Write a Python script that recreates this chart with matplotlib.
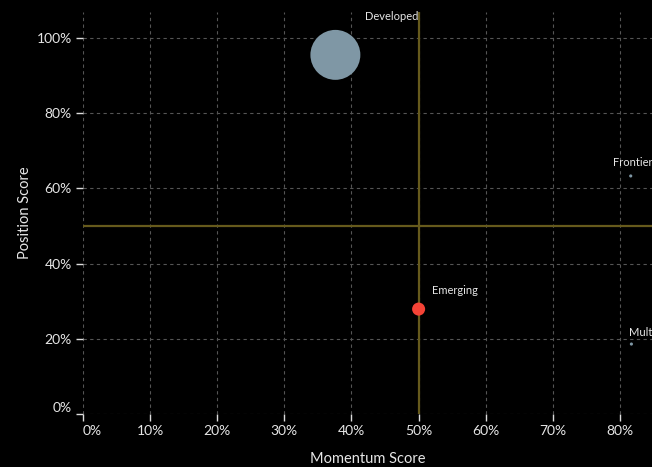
import matplotlib
matplotlib.use('Agg')
import numpy as np
import matplotlib.pyplot as plt
from matplotlib.ticker import PercentFormatter

# Market groups
groups = ['Developed', 'Emerging', 'Frontier', 'Multi-Region']
momentum = [0.376, 0.50, 0.816, 0.817]
position = [0.955, 0.279, 0.633, 0.186]
weight = [88.0, 6.0, 0.35, 0.35]
colors = ['#7f97a5', '#f44336', '#7f97a5', '#7f97a5']

# label offsets (points) relative to each point
label_offsets = [(21.5, 27.5), (9.5, 13.5), (-12.5, 10), (-1.5, 8.5)]

x_ticks = np.arange(0, 0.81, 0.1)
y_ticks = np.arange(0, 1.01, 0.2)

plt.rcParams['font.family'] = ['Lato', 'DejaVu Sans']

fig = plt.figure(figsize=(6.52, 4.67), dpi=100, facecolor='black')
ax = fig.add_axes([83 / 652, 53 / 467, 569 / 652, 402 / 467])
ax.set_facecolor('black')

ax.set_xlim(0, 0.8477)
ax.set_ylim(0, 1.069)

ax.set_xticks(x_ticks)
ax.set_yticks(y_ticks)
ax.xaxis.set_major_formatter(PercentFormatter(1.0, decimals=0))
ax.yaxis.set_major_formatter(PercentFormatter(1.0, decimals=0))

for s in ax.spines.values():
    s.set_visible(False)

ax.tick_params(colors='#dddddd', labelcolor='#e6e6e6', labelsize=10,
               length=5, width=1, direction='out', pad=3)

ax.grid(True, color='#555555', linestyle=(0, (3, 3)), linewidth=0.8)
ax.set_axisbelow(True)

# nudge the zero labels away from the corner
ax.get_xticklabels()[0].set_horizontalalignment('left')
ax.get_yticklabels()[0].set_verticalalignment('bottom')

# quadrant lines
ax.axhline(0.5, color='#665a1c', linewidth=1.6, zorder=1)
ax.axvline(0.5, color='#665a1c', linewidth=1.6, zorder=1)

sizes = [w * 14.7 for w in weight]
ax.scatter(momentum, position, s=sizes, c=colors, linewidths=0, zorder=3,
           clip_on=False)

for name, x, y, off in zip(groups, momentum, position, label_offsets):
    ax.annotate(name, (x, y), xytext=off, textcoords='offset points',
                color='#e6e6e6', fontsize=8, ha='left', va='center',
                annotation_clip=False)

ax.set_xlabel('Momentum Score', color='#e6e6e6', fontsize=10.5, labelpad=11)
ax.set_ylabel('Position Score', color='#e6e6e6', fontsize=10.5, labelpad=3)

fig.savefig('out.png', dpi=100, facecolor='black')
